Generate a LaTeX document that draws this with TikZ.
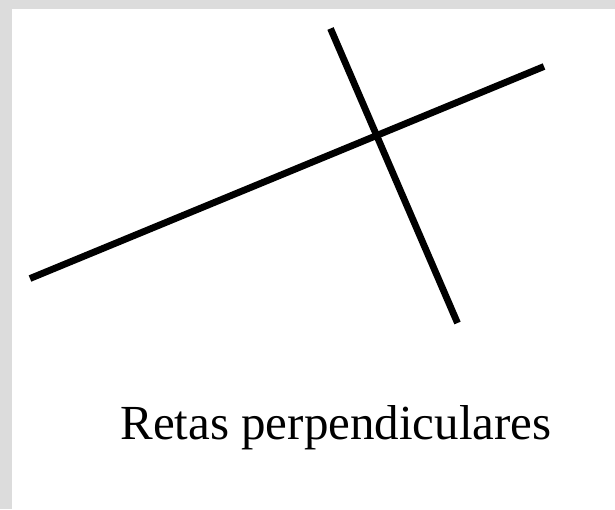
\documentclass[tikz,border=0pt]{standalone}
\usepackage{fontspec}
\setmainfont{Liberation Serif}
\definecolor{framegrey}{RGB}{220,220,220}
\begin{document}
\begin{tikzpicture}[x=1pt,y=-1pt,
  lineseg/.style={line width=6.8pt,line cap=butt,black},
  caption/.style={font=\fontsize{49}{54}\selectfont,anchor=base,inner sep=0pt}]
\fill[framegrey] (0,0) rectangle (615,509);
\fill[white] (12,9) rectangle (615,509);
\useasboundingbox (0,0) rectangle (615,509);
\coordinate (l1a) at (30,278.5);
\coordinate (l1b) at (544,66.5);
\coordinate (l2a) at (330.5,28.5);
\coordinate (l2b) at (457.5,323);
\draw[lineseg] (l1a) -- (l1b);
\draw[lineseg] (l2a) -- (l2b);
\node[caption] (cap) at (336,439) {Retas perpendiculares};
\end{tikzpicture}
\end{document}
